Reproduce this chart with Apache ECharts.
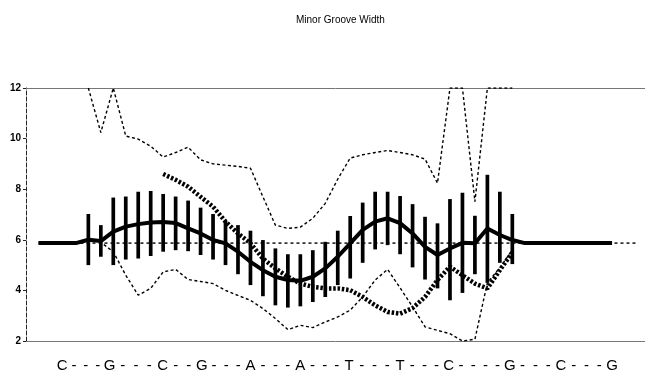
<!DOCTYPE html>
<html><head><meta charset="utf-8">
<script src="https://cdn.jsdelivr.net/npm/echarts@6/dist/echarts.min.js"></script>
<style>html,body{margin:0;padding:0;background:#fff}#c{width:645px;height:375px}</style>
</head><body><div id="c"></div>
<script>
// ---- data (x = base-step index; error bars at 0..34) ----
const steps = [...Array(35).keys()];
const barHigh = [7.02,6.58,7.67,7.71,7.9,7.93,7.81,7.71,7.55,7.27,7.02,6.75,6.58,6.36,5.99,5.66,5.43,5.43,5.59,5.92,6.36,6.94,7.47,7.9,7.9,7.73,7.41,6.91,6.65,7.61,7.86,6.95,8.57,7.9,7.02];
const barLow  = [5.0,5.33,5.0,5.22,5.26,5.36,5.53,5.59,5.55,5.4,5.22,5.0,4.64,4.21,3.77,3.41,3.32,3.37,3.54,3.74,4.21,4.47,5.09,5.62,5.79,5.43,4.91,4.43,4.08,3.61,3.9,4.64,4.3,5.09,5.04];
const meanPos = [-4,-1].concat(steps,[35,42]);
const meanVal = [5.87,5.87,
  6.0,5.95,6.32,6.52,6.62,6.68,6.7,6.66,6.45,6.25,5.99,5.86,5.53,5.13,4.8,4.54,4.41,4.38,4.54,4.87,5.33,5.86,6.39,6.72,6.85,6.66,6.25,5.72,5.4,5.66,5.88,5.86,6.45,6.19,5.99,
  5.87,5.87];
const upperVal = [12.0,10.24,12.0,10.1,9.98,9.7,9.27,9.45,9.66,9.16,9.0,8.95,8.9,8.83,7.7,6.58,6.45,6.5,6.85,7.44,8.4,9.23,9.36,9.45,9.53,9.45,9.36,9.19,8.24,12.0,12.0,7.51,12.0,12.0,12.0];
const lowerVal = [6.0,5.9,5.53,4.6,3.81,4.08,4.73,4.83,4.43,4.35,4.27,4.0,3.8,3.61,3.28,2.89,2.45,2.62,2.53,2.75,2.95,3.22,3.74,4.41,4.83,4.1,3.35,2.56,2.42,2.29,2.0,2.07,4.3,4.9,5.6];
const thickPos = steps.slice(6);
const thickVal = [8.6,8.37,8.1,7.7,7.31,6.72,6.25,5.86,5.26,4.87,4.54,4.27,4.14,4.08,4.08,4.01,3.74,3.41,3.15,3.08,3.3,3.74,4.41,4.94,4.6,4.27,4.08,4.8,5.5];
const basePos = [-4, 44];
const baseVal = [5.87, 5.87];
const seqLetters = ['C','G','C','G','A','A','T','T','C','G','C','G'];
const seqPos = [-2.1,1.7,5.95,9.1,13.0,17.0,20.9,25.0,28.9,33.8,37.9,42.0];
const dashCount = [3,3,2,3,3,3,3,3,4,3,3];

// ---- build label list ----
const labelMap = {};
const labelVals = [];
seqLetters.forEach((l,i)=>{ labelMap[seqPos[i].toFixed(3)] = l; labelVals.push(seqPos[i]); });
dashCount.forEach((n,i)=>{
  const a = seqPos[i], b = seqPos[i+1];
  for (let k=1;k<=n;k++){ const v = a + (b-a)*k/(n+1); labelMap[v.toFixed(3)]='-'; labelVals.push(v); }
});
labelVals.sort((x,y)=>x-y);

const zip = (xs, ys) => xs.map((x,i)=>[x, ys[i]]);
const FONT = "'Liberation Sans', Arial, sans-serif";

const chart = echarts.init(document.getElementById('c'), null, {renderer:'canvas'});
chart.setOption({
  animation:false,
  backgroundColor:'#fff',
  title:{text:'Minor Groove Width', left:291, top:10,
    textStyle:{fontSize:10, fontWeight:'normal', color:'#000', fontFamily:FONT}},
  grid:{left:26, right:0, top:88, bottom:34},
  xAxis:[
    {type:'value', position:'bottom', min:-5, max:44.64,
      axisLine:{show:true, onZero:false, lineStyle:{color:'#777', width:1}},
      axisTick:{show:false}, splitLine:{show:false},
      axisLabel:{customValues:labelVals, margin:17, color:'#000', fontSize:15, fontFamily:FONT,
        formatter:(v)=>labelMap[Number(v).toFixed(3)] || ''}},
    {type:'value', position:'top', min:-5, max:44.64,
      axisLine:{show:true, onZero:false, lineStyle:{color:'#777', width:1}},
      axisTick:{show:false}, splitLine:{show:false}, axisLabel:{show:false}}
  ],
  yAxis:{type:'value', min:2, max:12, interval:2,
    axisLine:{show:true, onZero:false, lineStyle:{color:'#222', width:1, type:[4,2]}},
    axisTick:{show:true, length:3, lineStyle:{color:'#222'}},
    splitLine:{show:false},
    axisLabel:{margin:5, color:'#000', fontSize:10, fontWeight:'bold', fontFamily:FONT}},
  series:[
    {type:'custom', name:'range', xAxisIndex:0,
      data: steps.map((p,i)=>[p, barLow[i], barHigh[i]]),
      encode:{x:0, y:[1,2]},
      renderItem:(params, api)=>{
        const a = api.coord([api.value(0), api.value(1)]);
        const b = api.coord([api.value(0), api.value(2)]);
        return {type:'line', shape:{x1:a[0], y1:a[1], x2:b[0], y2:b[1]},
          style:{stroke:'#000', lineWidth:3.7}};
      }, z:2},
    {type:'line', name:'upper', data:zip(steps, upperVal), symbol:'none', clip:true,
      lineStyle:{color:'#000', width:1.4, type:[3,2.5]}, z:3},
    {type:'line', name:'lower', data:zip(steps, lowerVal), symbol:'none', clip:true,
      lineStyle:{color:'#000', width:1.4, type:[3,2.5]}, z:3},
    {type:'line', name:'base', data:zip(basePos, baseVal), symbol:'none',
      lineStyle:{color:'#000', width:1.4, type:[3,3]}, z:3},
    {type:'line', name:'thick', data:zip(thickPos, thickVal), symbol:'none',
      lineStyle:{color:'#000', width:4.5, type:[2.5,1.8]}, z:4},
    {type:'line', name:'mean', data:zip(meanPos, meanVal), symbol:'none',
      lineStyle:{color:'#000', width:4}, z:5}
  ]
});
</script>
</body></html>
